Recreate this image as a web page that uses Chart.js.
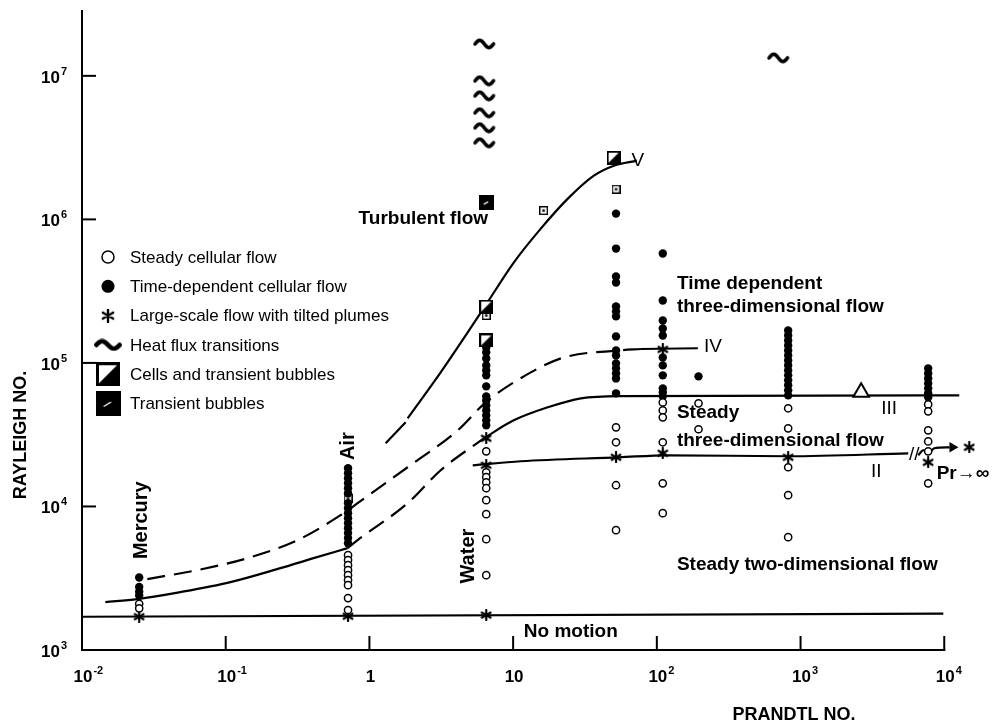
<!DOCTYPE html>
<html>
<head>
<meta charset="utf-8">
<script src="https://cdn.jsdelivr.net/npm/chart.js@4/dist/chart.umd.min.js"></script>
<style>
html, body { margin: 0; padding: 0; background: #fff; }
#wrap { width: 1006px; height: 725px; }
</style>
</head>
<body>
<div id="wrap"><canvas id="regime" width="1006" height="725"></canvas></div>
<script>
// Prandtl number of each fluid column (mercury, air, water, oils...)
var prandtl = [0.025, 0.71, 6.5, 52, 110, 195, 820, 7730];

// Rayleigh numbers observed in each column, same order as prandtl
var steadyRa = [
    [2100, 1950],
    [4580, 4230, 3900, 3600, 3320, 3070, 2830, 2300, 1900],
    [24200, 17300, 16000, 14750, 13400, 11060, 8840, 5920, 3320],
    [35600, 28000, 14060, 6840],
    [53100, 46700, 41800, 28000, 14500, 8980],
    [52300, 34500],
    [48300, 35000, 18760, 11980, 6110],
    [51400, 46000, 33900, 28400, 24200, 14500]
];
var timeDepRa = [
    [3200, 2750, 2550, 2400],
    [18460, 17030, 15730, 14520, 13400, 12370, 10540, 9730, 8980, 8290, 7650, 7060, 6520, 6020, 5550],
    [128200, 118400, 107500, 96100, 88700, 81900, 68650, 58500, 54800, 50600, 46700, 43100, 39800, 36750],
    [1097000, 626000, 400000, 363000, 247000, 228000, 211000, 153000, 122000, 112800, 99200, 91600, 84500, 78000, 61400],
    [578000, 272000, 197600, 173900, 155400, 109200, 96100, 81900, 66500, 62400, 58500],
    [80600],
    [168300, 155400, 143500, 132400, 122200, 112800, 104100, 96100, 88700, 81900, 75600, 69800, 64400, 59400],
    [91600, 84500, 78000, 72000, 66500, 61400, 57600]
];
var plumeRa = [
    [1708],
    [1720],
    [29850, 19360, 1750],
    [22000],
    [124200, 23470],
    [],
    [22000],
    [20300]
];
// plume point for the infinite Prandtl limit
var plumeFar = [[14930, 25840]];

// other symbols as [Pr, Ra]
var heatFlux = [[6.3, 16700000], [6.3, 9240000], [6.3, 7260000], [6.3, 5530000], [6.3, 4350000], [6.3, 3420000], [700, 13350000]];
var cellsBubbles = [[6.5, 247000], [6.5, 143500], [50, 2690000]];
var bubblesOnly = [[6.5, 1308000]];
var dottedBoxes = [[0.71, 11420], [6.5, 214100], [16.3, 1151000], [52, 1624000]];
var triangleMark = [[2640, 62400]];

// transition curves as [Pr, Ra]
var curveI = [[0.01, 1705], [9850, 1790]];
var curveIIILow = [[0.01453, 2157], [0.02428, 2263], [0.0484, 2532], [0.1079, 2972], [0.2407, 3720], [0.4086, 4365], [0.7049, 5125]];
var curveIIIMid = [[0.7049, 5125], [0.8276, 5826], [1.845, 10540], [3.133, 17880], [6.245, 29850]];
var curveIIIHigh = [[6.245, 29850], [10.1, 39820], [17.43, 49050], [29.6, 56650], [54.5, 58800], [12720, 59400]];
var curveIV = [[0.0285, 3119], [0.0636, 3603], [0.1417, 4365], [0.3161, 5826], [0.6301, 8695], [0.8276, 10540], [1.845, 18760], [4.116, 33930], [6.449, 53130], [13.27, 85900], [22.53, 109200], [54.5, 122200], [77.5, 125000]];
var curveIVTail = [[77.5, 125000], [193, 126500]];
var curveVHead = [[1.297, 27550], [1.787, 38570]];
var curveV = [[1.845, 41110], [3.133, 85900], [4.679, 155400], [6.553, 259400], [10.1, 500300], [15.58, 862600], [24.03, 1395000], [36.46, 2017000], [50.24, 2367000], [72.67, 2564000]];
var curveII = [[5.236, 19360], [11.31, 20650], [54.5, 22000], [119.5, 22730], [819, 22370], [5614, 23470]];
var curveIIWave = [[6592, 22730], [7141, 24630], [7863, 23850], [8518, 25430], [10900, 25840]];
var arrowTip = [[11400, 25840]];

// axis ticks
var xTickValues = [0.01, 0.1, 1, 10, 100, 1000, 10000];
var xTickBase = ['10', '10', '1', '10', '10', '10', '10'];
var xTickExp = ['-2', '-1', '', '', '2', '3', '4'];
var yTickValues = [1000, 10000, 100000, 1000000, 10000000];
var yTickExp = ['3', '4', '5', '6', '7'];

// text placed on the diagram, [Pr, Ra]
var regionText = ['Turbulent flow', 'Time dependent', 'three-dimensional flow', 'Steady', 'three-dimensional flow', 'Steady two-dimensional flow', 'No motion'];
var regionAt = [[0.841, 1012500], [138, 357400], [138, 247400], [138, 45300], [138, 28900], [138, 3900], [11.87, 1334]];
var branchText = ['V', 'IV', 'III', 'II', '//', 'Pr\u2192\u221e'];
var branchAt = [[73.9, 2560000], [246, 129000], [4140, 48300], [3361, 17400], [6180, 23100], [13490, 17000]];
var fluidText = ['Mercury', 'Air', 'Water'];
var fluidAt = [[0.0259, 8020], [0.71, 26300], [4.91, 4510]];

var legendText = ['Steady cellular flow', 'Time-dependent cellular flow', 'Large-scale flow with tilted plumes', 'Heat flux transitions', 'Cells and transient bubbles', 'Transient bubbles'];

var LETTER = '"Liberation Sans", Arial, sans-serif';

function symbolCanvas(w, h, paint) {
    var c = document.createElement('canvas');
    c.width = w;
    c.height = h;
    var g = c.getContext('2d');
    g.fillStyle = '#000';
    g.strokeStyle = '#000';
    paint(g, w, h);
    return c;
}

function paintTilde(lw) {
    return function(g, w, h) {
        var amp = h / 2 - lw / 2 - 0.5;
        g.lineWidth = lw;
        g.lineCap = 'round';
        g.lineJoin = 'round';
        g.beginPath();
        for (var i = 0; i <= 24; i++) {
            var t = i / 24;
            var x = lw / 2 + 1 + t * (w - lw - 2);
            var y = h / 2 - amp * Math.sin(2 * Math.PI * t);
            if (i === 0) g.moveTo(x, y); else g.lineTo(x, y);
        }
        g.stroke();
    };
}

function paintHalfSquare(lw) {
    return function(g, w, h) {
        g.fillStyle = '#fff';
        g.fillRect(0, 0, w, h);
        g.fillStyle = '#000';
        g.beginPath();
        g.moveTo(0, h);
        g.lineTo(w, 0);
        g.lineTo(w, h);
        g.closePath();
        g.fill();
        g.lineWidth = lw;
        g.strokeRect(lw / 2, lw / 2, w - lw, h - lw);
    };
}

function paintBubble(g, w, h) {
    g.fillRect(0, 0, w, h);
    g.strokeStyle = '#fff';
    g.lineWidth = 1.3;
    g.beginPath();
    g.moveTo(w * 0.33, h * 0.62);
    g.lineTo(w * 0.62, h * 0.44);
    g.stroke();
}

function paintDotted(g, w, h) {
    g.fillStyle = '#fff';
    g.fillRect(0, 0, w, h);
    g.lineWidth = 1.4;
    g.strokeRect(0.7, 0.7, w - 1.4, h - 1.4);
    g.fillStyle = '#000';
    g.fillRect(w / 2 - 1.2, h / 2 - 1.2, 2.4, 2.4);
}

function paintAsterisk(lw) {
    return function(g, w, h) {
        var r = w / 2 - 1;
        g.lineWidth = lw;
        g.lineCap = 'round';
        g.beginPath();
        for (var k = 0; k < 3; k++) {
            var a = Math.PI / 2 + k * Math.PI / 3;
            g.moveTo(w / 2 + r * Math.cos(a), h / 2 + r * Math.sin(a));
            g.lineTo(w / 2 - r * Math.cos(a), h / 2 - r * Math.sin(a));
        }
        g.stroke();
    };
}

var tildeMark = symbolCanvas(24, 12, paintTilde(3.6));
var halfMark = symbolCanvas(14, 14, paintHalfSquare(2));
var bubbleMark = symbolCanvas(15, 15, paintBubble);
var dottedMark = symbolCanvas(9, 9, paintDotted);
var starMark = symbolCanvas(12, 12, paintAsterisk(2.2));

var legendMarks = [
    null,
    null,
    symbolCanvas(14, 14, paintAsterisk(2.4)),
    symbolCanvas(30, 13, paintTilde(4.6)),
    symbolCanvas(24, 24, paintHalfSquare(3)),
    symbolCanvas(25, 25, paintBubble)
];

function pairs(list) {
    return list.map(function(p) { return {x: p[0], y: p[1]}; });
}

function columnSeries(rows) {
    var out = [];
    rows.forEach(function(vals, i) {
        vals.forEach(function(v) { out.push({x: prandtl[i], y: v}); });
    });
    return out;
}

function marks(label, data, style, extra) {
    var ds = {label: label, data: data, showLine: false, pointStyle: style, pointRadius: 5, pointBorderColor: '#000', pointBackgroundColor: '#000', pointBorderWidth: 0};
    for (var k in extra) ds[k] = extra[k];
    return ds;
}

function curve(label, points, dash) {
    return {
        label: label,
        data: pairs(points),
        showLine: true,
        borderColor: '#000',
        borderWidth: 2.2,
        borderDash: dash || [],
        pointRadius: 0,
        cubicInterpolationMode: 'monotone',
        fill: false,
        clip: false
    };
}

// superscript power label: base then raised exponent
function drawPower(ctx, base, exp, x, y, align) {
    ctx.font = 'bold 17px ' + LETTER;
    var wb = ctx.measureText(base).width;
    var left = align === 'right' ? x - wb : x - wb / 2;
    ctx.textAlign = 'left';
    ctx.textBaseline = 'alphabetic';
    ctx.fillText(base, left, y);
    if (exp) {
        ctx.font = 'bold 11px ' + LETTER;
        ctx.fillText(exp, left + wb + 1, y - 8);
    }
}

var decor = {
    id: 'decor',
    afterDatasetsDraw: function(chart) {
        var ctx = chart.ctx;
        var xs = chart.scales.x;
        var ys = chart.scales.y;
        var area = chart.chartArea;
        ctx.save();
        ctx.strokeStyle = '#000';
        ctx.fillStyle = '#000';

        // x axis line stops at the last decade
        var xEnd = xs.getPixelForValue(xTickValues[xTickValues.length - 1]);
        ctx.lineWidth = 2;
        ctx.beginPath();
        ctx.moveTo(area.left - 1, area.bottom);
        ctx.lineTo(xEnd + 1, area.bottom);
        ctx.stroke();

        // tick marks point inwards
        xTickValues.forEach(function(v, i) {
            if (i === 0) return;
            var px = xs.getPixelForValue(v);
            ctx.beginPath();
            ctx.moveTo(px, area.bottom);
            ctx.lineTo(px, area.bottom - 14);
            ctx.stroke();
        });
        yTickValues.forEach(function(v, i) {
            if (i === 0) return;
            var py = ys.getPixelForValue(v);
            ctx.beginPath();
            ctx.moveTo(area.left, py);
            ctx.lineTo(area.left + 14, py);
            ctx.stroke();
        });

        xTickValues.forEach(function(v, i) {
            drawPower(ctx, xTickBase[i], xTickExp[i], xs.getPixelForValue(v) + 1, area.bottom + 32, 'center');
        });
        yTickValues.forEach(function(v, i) {
            drawPower(ctx, '10', yTickExp[i], area.left - 22, ys.getPixelForValue(v) + 7, 'right');
        });

        // axis titles
        ctx.font = 'bold 18px ' + LETTER;
        ctx.textAlign = 'center';
        ctx.textBaseline = 'middle';
        ctx.fillText('PRANDTL NO.', 794, 715);
        ctx.save();
        ctx.translate(21, 435);
        ctx.rotate(-Math.PI / 2);
        ctx.fillText('RAYLEIGH NO.', 0, 0);
        ctx.restore();

        // region names
        ctx.font = 'bold 19px ' + LETTER;
        ctx.textAlign = 'left';
        regionText.forEach(function(t, i) {
            ctx.fillText(t, xs.getPixelForValue(regionAt[i][0]), ys.getPixelForValue(regionAt[i][1]));
        });

        // branch numerals
        ctx.textAlign = 'center';
        branchText.forEach(function(t, i) {
            ctx.font = (i === 5 ? 'bold ' : '') + '19px ' + LETTER;
            ctx.fillText(t, xs.getPixelForValue(branchAt[i][0]), ys.getPixelForValue(branchAt[i][1]));
        });

        // fluid names, written upwards
        ctx.font = 'bold 20px ' + LETTER;
        fluidText.forEach(function(t, i) {
            ctx.save();
            ctx.translate(xs.getPixelForValue(fluidAt[i][0]), ys.getPixelForValue(fluidAt[i][1]));
            ctx.rotate(-Math.PI / 2);
            ctx.fillText(t, 0, 0);
            ctx.restore();
        });

        // key
        var lx = 108, ly = 257, step = 29.3;
        ctx.font = '17px ' + LETTER;
        ctx.textAlign = 'left';
        legendText.forEach(function(t, i) {
            var cy = ly + i * step;
            if (i === 0) {
                ctx.lineWidth = 1.5;
                ctx.beginPath();
                ctx.arc(lx, cy, 6, 0, Math.PI * 2);
                ctx.stroke();
            } else if (i === 1) {
                ctx.beginPath();
                ctx.arc(lx, cy, 6.5, 0, Math.PI * 2);
                ctx.fill();
            } else {
                var m = legendMarks[i];
                ctx.drawImage(m, lx - m.width / 2, cy - m.height / 2);
            }
            ctx.fillText(t, 130, cy + 1);
        });
        ctx.restore();
    }
};

var datasets = [
    marks('Steady cellular flow', columnSeries(steadyRa), 'circle', {pointRadius: 3.6, pointBackgroundColor: '#fff', pointBorderWidth: 1.5}),
    marks('Time-dependent cellular flow', columnSeries(timeDepRa), 'circle', {pointRadius: 4.2}),
    marks('Large-scale flow with tilted plumes', columnSeries(plumeRa).concat(pairs(plumeFar)), starMark),
    marks('Heat flux transitions', pairs(heatFlux), tildeMark),
    marks('Cells and transient bubbles', pairs(cellsBubbles), halfMark),
    marks('Transient bubbles', pairs(bubblesOnly), bubbleMark),
    marks('Dotted boxes', pairs(dottedBoxes), dottedMark),
    marks('Triangle', pairs(triangleMark), 'triangle', {pointRadius: 9, pointBackgroundColor: '#fff', pointBorderWidth: 2}),
    marks('Arrow', pairs(arrowTip), 'triangle', {pointRadius: 6, rotation: 90}),
    curve('I', curveI),
    curve('III low', curveIIILow),
    curve('III mid', curveIIIMid, [18, 9]),
    curve('III high', curveIIIHigh),
    curve('IV', curveIV, [18, 9]),
    curve('IV tail', curveIVTail),
    curve('V head', curveVHead),
    curve('V', curveV),
    curve('II', curveII),
    curve('II wave', curveIIWave)
];

new Chart(document.getElementById('regime'), {
    type: 'scatter',
    data: {datasets: datasets},
    options: {
        responsive: false,
        animation: false,
        devicePixelRatio: 1,
        events: [],
        layout: {padding: {left: 82, right: 6, top: 10, bottom: 75}},
        scales: {
            x: {
                type: 'logarithmic',
                min: 0.01,
                max: 22550,
                afterFit: function(s) { s.height = 0; },
                ticks: {display: false},
                grid: {display: false},
                border: {display: false}
            },
            y: {
                type: 'logarithmic',
                min: 1000,
                max: 28300000,
                afterFit: function(s) { s.width = 0; },
                ticks: {display: false},
                grid: {display: false},
                border: {display: true, color: '#000', width: 2}
            }
        },
        plugins: {
            legend: {display: false},
            tooltip: {enabled: false}
        }
    },
    plugins: [decor]
});
</script>
</body>
</html>
